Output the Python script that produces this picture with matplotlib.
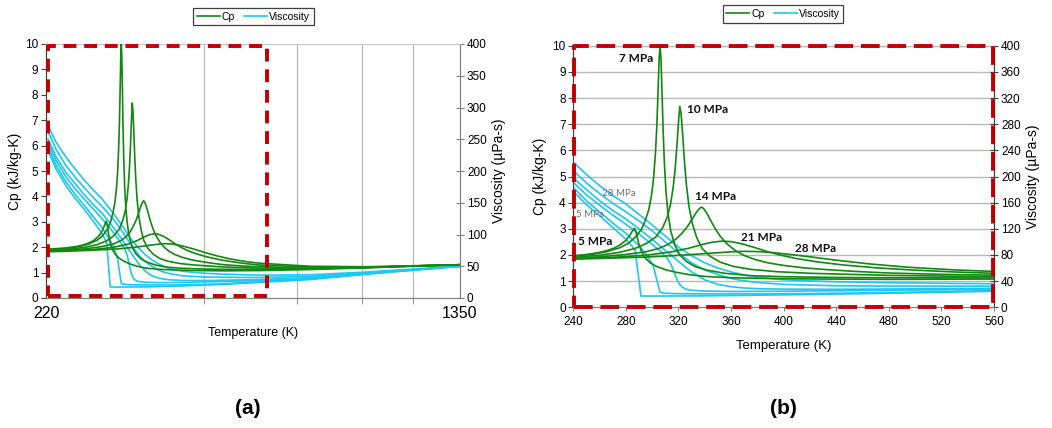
import matplotlib
matplotlib.use("Agg")
import matplotlib.pyplot as plt
from matplotlib.lines import Line2D
from matplotlib.ticker import FixedLocator, NullFormatter

plt.rcParams['font.family'] = ['Liberation Sans', 'DejaVu Sans']

# ---------------- data ----------------
pressures = ["5 MPa", "7 MPa", "10 MPa", "14 MPa", "21 MPa", "28 MPa"]

# Specific heat Cp (kJ/kg-K)
cp5_T = [222, 240, 250, 258, 265, 271, 276, 280, 283, 285, 286.5, 287.5, 288.5, 290, 292, 294.5, 298, 303, 310, 318, 328, 340, 360, 390, 430, 480, 560, 700, 900, 1100, 1350]
cp5 = [1.92, 1.97, 2.02, 2.08, 2.16, 2.26, 2.4, 2.56, 2.75, 2.92, 3.02, 2.9, 2.7, 2.4, 2.12, 1.9, 1.72, 1.57, 1.44, 1.34, 1.25, 1.18, 1.13, 1.1, 1.08, 1.07, 1.08, 1.12, 1.19, 1.25, 1.31]

cp7_T = [222, 240, 255, 265, 275, 282, 288, 292, 295, 297.5, 299.5, 301, 302.5, 303.5, 304.5, 305.3, 306, 306.7, 307.5, 308.3, 309.2, 310.5, 312, 314, 317, 321, 326, 333, 342, 355, 375, 400, 440, 480, 560, 700, 900, 1100, 1350]
cp7 = [1.90, 1.95, 2.03, 2.12, 2.27, 2.45, 2.72, 3.0, 3.35, 3.75, 4.3, 4.9, 5.9, 6.9, 8.3, 9.5, 10.0, 9.5, 8.2, 6.8, 5.6, 4.4, 3.6, 2.95, 2.4, 2.0, 1.75, 1.55, 1.42, 1.3, 1.21, 1.17, 1.14, 1.13, 1.12, 1.14, 1.2, 1.26, 1.31]

cp10_T = [222, 240, 260, 275, 287, 296, 303, 308, 311.5, 314, 316, 317.5, 319, 320.2, 321, 322, 323.2, 324.5, 326, 328, 330.5, 334, 338, 344, 352, 362, 375, 395, 420, 480, 560, 700, 900, 1100, 1350]
cp10 = [1.88, 1.91, 1.99, 2.1, 2.25, 2.45, 2.7, 3.05, 3.45, 3.95, 4.6, 5.3, 6.3, 7.2, 7.68, 7.4, 6.6, 5.6, 4.7, 3.85, 3.2, 2.65, 2.25, 1.95, 1.72, 1.56, 1.45, 1.36, 1.3, 1.22, 1.17, 1.16, 1.2, 1.26, 1.31]

cp14_T = [222, 240, 260, 280, 295, 305, 312, 318, 323, 327, 330.5, 333.5, 336, 337.5, 339, 341.5, 344.5, 348, 352, 357, 363, 370, 378, 388, 400, 415, 430, 455, 480, 520, 560, 700, 900, 1100, 1350]
cp14 = [1.86, 1.88, 1.93, 2.02, 2.12, 2.25, 2.4, 2.6, 2.85, 3.1, 3.38, 3.62, 3.78, 3.83, 3.78, 3.6, 3.32, 3.0, 2.7, 2.42, 2.18, 1.98, 1.83, 1.7, 1.6, 1.51, 1.45, 1.37, 1.31, 1.26, 1.23, 1.18, 1.21, 1.26, 1.31]

cp21_T = [222, 240, 270, 295, 315, 328, 338, 346, 353, 360, 368, 377, 387, 398, 410, 425, 445, 470, 500, 530, 560, 700, 900, 1100, 1350]
cp21 = [1.84, 1.86, 1.91, 1.99, 2.12, 2.26, 2.4, 2.49, 2.53, 2.51, 2.43, 2.3, 2.14, 1.99, 1.86, 1.74, 1.62, 1.51, 1.42, 1.35, 1.3, 1.22, 1.22, 1.26, 1.31]

cp28_T = [222, 240, 270, 300, 325, 345, 360, 370, 380, 392, 405, 420, 440, 465, 495, 530, 560, 700, 900, 1100, 1350]
cp28 = [1.82, 1.84, 1.88, 1.93, 2.0, 2.07, 2.12, 2.14, 2.13, 2.09, 2.02, 1.93, 1.8, 1.66, 1.53, 1.43, 1.37, 1.25, 1.23, 1.27, 1.31]

# Viscosity (uPa-s)
v5_T = [222, 230, 240, 250, 260, 270, 280, 287, 291.5, 300, 340, 400, 480, 560, 700, 900, 1100, 1350]
v5 = [232, 203, 177, 157, 140, 122, 104, 88, 17.3, 17.2, 17.5, 19, 21.5, 24.5, 29, 37.5, 44, 50]

v7_T = [222, 230, 240, 250, 260, 270, 280, 290, 296, 301, 303.5, 306, 310, 320, 340, 380, 420, 480, 560, 700, 900, 1100, 1350]
v7 = [238, 209, 183, 163, 146, 129, 113, 94, 80, 62, 42, 23, 21.5, 20.8, 20.5, 20.5, 21, 22.5, 25.5, 30, 38, 44, 50]

v10_T = [222, 230, 240, 250, 260, 270, 280, 290, 300, 306, 311, 314, 316.5, 318.5, 320.5, 323, 326, 330, 340, 360, 400, 480, 560, 700, 900, 1100, 1350]
v10 = [244, 216, 191, 172, 156, 141, 127, 112, 96, 86, 76, 67, 55, 44, 36, 30.5, 27.5, 26, 24.8, 24.2, 24.5, 26, 27.5, 31, 38.5, 44, 50]

v14_T = [222, 230, 240, 250, 260, 270, 280, 290, 300, 310, 320, 330, 340, 350, 360, 370, 380, 400, 440, 480, 560, 700, 900, 1100, 1350]
v14 = [250, 222, 198, 180, 163, 148, 135, 120, 104, 87, 70, 54, 42, 35, 31.5, 29.5, 28.5, 27.7, 27.5, 28, 29, 32, 39, 44.5, 50]

v21_T = [222, 230, 240, 250, 260, 270, 280, 290, 300, 310, 320, 330, 340, 350, 360, 370, 380, 400, 440, 480, 560, 700, 900, 1100, 1350]
v21 = [262, 234, 209, 190, 174, 159, 146, 132, 117, 100, 83, 68, 57, 50, 44, 40.5, 38, 35, 33, 32.5, 32.3, 34, 40, 45, 50]

v28_T = [222, 230, 240, 250, 260, 270, 280, 290, 300, 310, 320, 330, 340, 350, 360, 370, 380, 400, 440, 480, 560, 700, 900, 1100, 1350]
v28 = [272, 245, 222, 203, 186, 171, 158, 142, 126, 109, 92, 79, 68, 60, 54, 49.5, 46, 42, 39, 37.5, 36, 36.5, 41, 45.5, 50]

cp_series = [(cp5_T, cp5), (cp7_T, cp7), (cp10_T, cp10), (cp14_T, cp14), (cp21_T, cp21), (cp28_T, cp28)]
visc_series = [(v5_T, v5), (v7_T, v7), (v10_T, v10), (v14_T, v14), (v21_T, v21), (v28_T, v28)]

left_grid_T = [440, 660, 880, 1100]
right_xticks = [240, 280, 320, 360, 400, 440, 480, 520, 560]
right_vticks = [0, 40, 80, 120, 160, 200, 240, 280, 320, 360, 400]
left_vticks = [0, 50, 100, 150, 200, 250, 300, 350, 400]
cp_ticks = list(range(0, 11))

# bold pressure labels on panel (b): (text, T, Cp)
bold_labels = [("7 MPa", 288, 9.5), ("10 MPa", 342, 7.55), ("14 MPa", 348, 4.25),
               ("21 MPa", 383, 2.65), ("28 MPa", 424, 2.25), ("5 MPa", 257, 2.5)]
gray_labels = [("28 MPa", 275, 4.36), ("5 MPa", 253, 3.56)]

# ---------------- styles ----------------
GREEN = '#118811'
CYAN = '#1ec6f2'
RED = '#c00000'
GRID = '#b8b8b8'
SPINE = '#808080'

fig = plt.figure(figsize=(10.52, 4.28), dpi=100)

def style_spines(ax, left_col, right_col, bottom_col, top_col):
    ax.spines['left'].set_color(left_col)
    ax.spines['right'].set_color(right_col)
    ax.spines['bottom'].set_color(bottom_col)
    ax.spines['top'].set_color(top_col)

# ================= panel (a) =================
axA = fig.add_axes([46/1052, 1-298/428, 414/1052, 254/428])
axA.set_xscale('log')
axA.set_xlim(220, 1350)
axA.set_ylim(0, 10)
axA2 = axA.twinx()
axA2.set_ylim(0, 400)
axA.set_zorder(axA2.get_zorder() + 1)
axA.patch.set_visible(False)

for T, c in cp_series:
    axA.plot(T, c, color=GREEN, lw=1.2, zorder=3)
for T, v in visc_series:
    axA2.plot(T, v, color=CYAN, lw=1.2, zorder=2)

axA.xaxis.set_major_locator(FixedLocator([220, 1350]))
axA.xaxis.set_major_formatter(plt.FuncFormatter(lambda x, p: f"{int(round(x))}"))
axA.xaxis.set_minor_locator(FixedLocator(left_grid_T))
axA.xaxis.set_minor_formatter(NullFormatter())
for g in left_grid_T:
    axA2.axvline(g, color=GRID, lw=0.9, zorder=0)
axA.tick_params(axis='x', which='major', labelsize=11.5, length=0, pad=6)
axA.tick_params(axis='x', which='minor', length=4, color=SPINE, direction='out')
axA.set_yticks(cp_ticks)
axA.tick_params(axis='y', labelsize=8.5, length=3.5, color='#404040', pad=2)
axA2.set_yticks(left_vticks)
axA2.tick_params(axis='y', labelsize=8.5, length=6, direction='inout', color=SPINE, pad=2)
style_spines(axA, '#404040', SPINE, SPINE, '#c8c8c8')
style_spines(axA2, '#404040', SPINE, SPINE, '#c8c8c8')
axA.set_xlabel('Temperature (K)', fontsize=9, labelpad=4)
axA.set_ylabel('Cp (kJ/kg-K)', fontsize=10, labelpad=2)
axA2.set_ylabel('Viscosity (µPa-s)', fontsize=10, labelpad=4)

# red dashed rectangle on (a)
rx0, rx1, ry0, ry1 = 0.006, 0.533, 0.009, 0.993
lnA, = axA.plot([rx0, rx1, rx1, rx0, rx0], [ry0, ry0, ry1, ry1, ry0], transform=axA.transAxes,
                color=RED, lw=2.8, clip_on=False, zorder=6)
lnA.set_dashes((3.3, 2.0))

# ================= panel (b) =================
axB = fig.add_axes([573.3/1052, 1-307.3/428, 420.7/1052, 261.6/428])
axB.set_xlim(240, 560)
axB.set_ylim(0, 10)
axB2 = axB.twinx()
axB2.set_ylim(0, 400)
axB.set_zorder(axB2.get_zorder() + 1)
axB.patch.set_visible(False)

for c in cp_ticks[1:]:
    axB2.axhline(c * 40, color=GRID, lw=1.0, zorder=0)
for T, c in cp_series:
    axB.plot(T, c, color=GREEN, lw=1.2, zorder=3)
for T, v in visc_series:
    axB2.plot(T, v, color=CYAN, lw=1.2, zorder=2)

axB.set_xticks(right_xticks)
axB.tick_params(axis='x', labelsize=8.5, length=3, color=SPINE, pad=3)
axB.set_yticks(cp_ticks)
axB.tick_params(axis='y', labelsize=8.5, length=3.5, color='#404040', pad=2)
axB2.set_yticks(right_vticks)
axB2.tick_params(axis='y', labelsize=8.5, length=6, direction='inout', color='#404040', pad=2)
style_spines(axB, '#404040', '#404040', SPINE, GRID)
style_spines(axB2, '#404040', '#404040', SPINE, GRID)
axB.set_xlabel('Temperature (K)', fontsize=9.5, labelpad=9)
axB.set_ylabel('Cp (kJ/kg-K)', fontsize=10, labelpad=4)
axB2.set_ylabel('Viscosity (µPa-s)', fontsize=10, labelpad=4)

for txt, T, c in bold_labels:
    axB.text(T, c, txt, fontsize=8.5, fontweight='bold', family=['Lato', 'DejaVu Sans'],
             ha='center', va='center', color='#111111', zorder=7)
for txt, T, c in gray_labels:
    axB.text(T, c, txt, fontsize=7, family=['Lato', 'DejaVu Sans'],
             ha='center', va='center', color='#707070', zorder=7)

lnB, = axB.plot([0.002, 0.998, 0.998, 0.002, 0.002], [0.0, 0.0, 0.998, 0.998, 0.0],
                transform=axB.transAxes, color=RED, lw=2.8, clip_on=False, zorder=6)
lnB.set_dashes((4.8, 2.0))

# ================= legends =================
handles = [Line2D([], [], color=GREEN, lw=1.2), Line2D([], [], color=CYAN, lw=1.2)]
for cx, cy in [(253.5 / 1052, 1 - 16.5 / 428), (783 / 1052, 1 - 14 / 428)]:
    leg = fig.legend(handles, ['Cp', 'Viscosity'], loc='center', bbox_to_anchor=(cx, cy),
                     ncol=2, fontsize=7.5, frameon=True, fancybox=False, framealpha=1,
                     edgecolor='#404040', handlelength=2.2, handletextpad=0.2,
                     columnspacing=0.9, borderpad=0.35)
    leg.get_frame().set_linewidth(0.9)

# ================= panel captions =================
fig.text(248 / 1052, 1 - 408 / 428, '(a)', fontsize=15, fontweight='bold', ha='center', va='center')
fig.text(783 / 1052, 1 - 408 / 428, '(b)', fontsize=15, fontweight='bold', ha='center', va='center')

fig.savefig('out.png', dpi=100)
